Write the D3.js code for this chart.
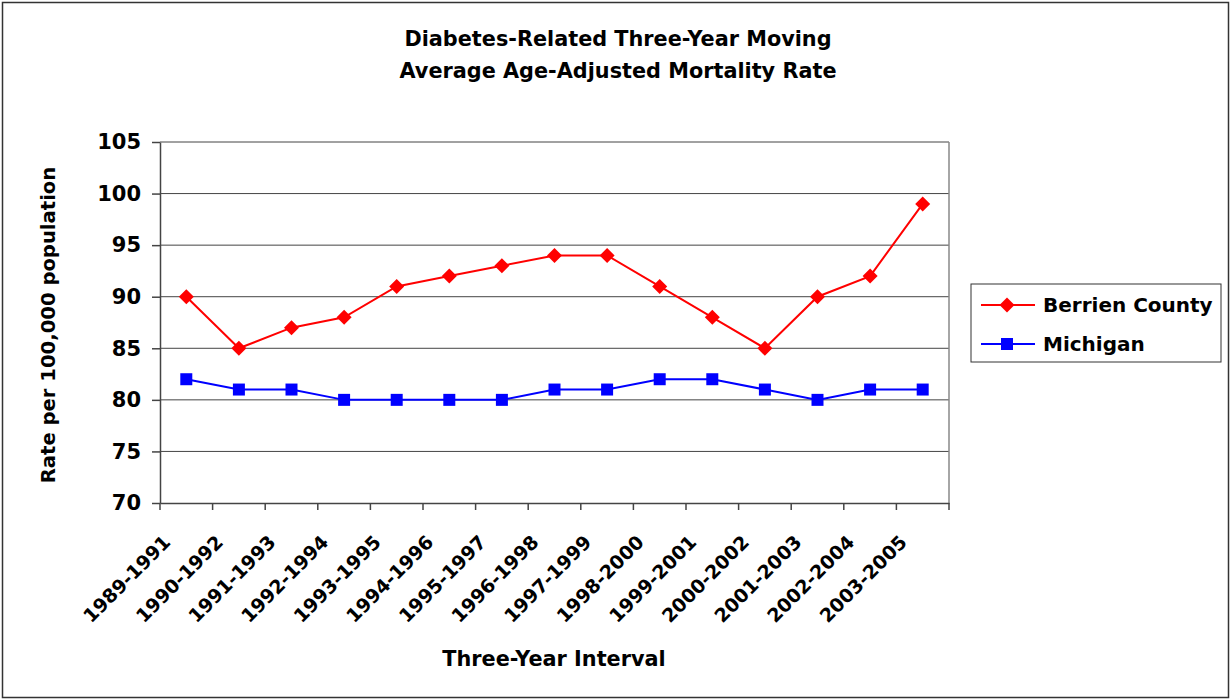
<!DOCTYPE html>
<html><head><meta charset="utf-8">
<script src="https://cdn.jsdelivr.net/npm/d3@7"></script>
<style>body{margin:0;background:#fff}svg{display:block}text{font-family:"DejaVu Sans",sans-serif;font-weight:bold}</style>
</head><body>
<svg id="c" width="1231" height="700"></svg>
<script>
const categories = ["1989-1991","1990-1992","1991-1993","1992-1994","1993-1995","1994-1996","1995-1997","1996-1998","1997-1999","1998-2000","1999-2001","2000-2002","2001-2003","2002-2004","2003-2005"];
const berrien = [90,85,87,88,91,92,93,94,94,91,88,85,90,92,99];
const michigan = [82,81,81,80,80,80,80,81,81,82,82,81,80,81,81];
const yTicks = [70,75,80,85,90,95,100,105];
const seriesNames = ["Berrien County","Michigan"];
const seriesColors = ["#ff0000","#0000ff"];
const FF = "DejaVu Sans, sans-serif";

const svg = d3.select("#c");
svg.append("rect").attr("x",2.5).attr("y",2.5).attr("width",1226).attr("height",695).attr("fill","#fff").attr("stroke","#333").attr("stroke-width",1.5);

const L=160,R=949,T=142,B=503;
const x = d3.scaleBand().domain(categories).range([L,R]);
const y = d3.scaleLinear().domain([70,105]).range([B,T]);

// gridlines
svg.append("g").selectAll("line").data(yTicks.filter(d=>d>70)).join("line")
  .attr("x1",L).attr("x2",R).attr("y1",d=>y(d)).attr("y2",d=>y(d))
  .attr("stroke","#444").attr("stroke-width",1);
svg.append("line").attr("x1",R).attr("x2",R).attr("y1",T).attr("y2",B).attr("stroke","#888").attr("stroke-width",1.5);

// y axis
const ya = svg.append("g").attr("transform",`translate(${L},0)`)
  .call(d3.axisLeft(y).tickValues(yTicks).tickSize(8).tickSizeOuter(0).tickPadding(11));
ya.select(".domain").attr("stroke","#444").attr("stroke-width",1.5);
ya.selectAll(".tick line").attr("stroke","#444").attr("stroke-width",1.5);
ya.selectAll("text").attr("font-size","21px").attr("fill","#000").attr("font-weight","bold").attr("font-family",FF);

// x axis
const xa = svg.append("g").attr("transform",`translate(0,${B})`)
  .call(d3.axisBottom(x).tickSize(0).tickFormat(""));
xa.select(".domain").attr("stroke","#444").attr("stroke-width",1.5);
svg.append("g").selectAll("line").data(d3.range(categories.length+1)).join("line")
  .attr("x1",i=>L+i*x.step()).attr("x2",i=>L+i*x.step())
  .attr("y1",B).attr("y2",B+7).attr("stroke","#444").attr("stroke-width",1.5);
svg.append("g").selectAll("text").data(categories).join("text")
  .attr("transform",d=>`translate(${x(d)+x.bandwidth()/2-24},${B+31}) rotate(-45)`)
  .attr("text-anchor","end").attr("dy","0.7em").attr("font-size","19px").text(d=>d);

// lines
const cx = (i)=>x(categories[i])+x.bandwidth()/2;
const line = d3.line().x((d,i)=>cx(i)).y(d=>y(d));
[berrien,michigan].forEach((s,k)=>{
  svg.append("path").datum(s).attr("d",line).attr("fill","none").attr("stroke",seriesColors[k]).attr("stroke-width",2);
});
const diamond = "M0,-7.5L7.5,0L0,7.5L-7.5,0Z";
const square = "M-6,-6H6V6H-6Z";
const shapes = [diamond, square];
[berrien,michigan].forEach((s,k)=>{
  svg.append("g").selectAll("path").data(s).join("path")
    .attr("transform",(d,i)=>`translate(${cx(i)},${y(d)})`)
    .attr("d",shapes[k]).attr("fill",seriesColors[k]);
});

// titles
svg.append("text").attr("x",618).attr("y",46).attr("text-anchor","middle").attr("font-size","20.8px").text("Diabetes-Related Three-Year Moving");
svg.append("text").attr("x",618).attr("y",78).attr("text-anchor","middle").attr("font-size","20.8px").text("Average Age-Adjusted Mortality Rate");
svg.append("text").attr("x",554).attr("y",666).attr("text-anchor","middle").attr("font-size","20.8px").text("Three-Year Interval");
svg.append("text").attr("transform","translate(55,325) rotate(-90)").attr("text-anchor","middle").attr("font-size","19.6px").text("Rate per 100,000 population");

// legend
const lg = svg.append("g");
lg.append("rect").attr("x",971).attr("y",284).attr("width",250).attr("height",78).attr("fill","#fff").attr("stroke","#333").attr("stroke-width",1);
seriesNames.forEach((n,k)=>{
  const yy = 305+k*39;
  lg.append("line").attr("x1",981).attr("x2",1035).attr("y1",yy).attr("y2",yy).attr("stroke",seriesColors[k]).attr("stroke-width",2);
  lg.append("path").attr("transform",`translate(1007,${yy})`).attr("d",shapes[k]).attr("fill",seriesColors[k]);
  lg.append("text").attr("x",1043).attr("y",yy+7).attr("font-size","20px").text(n);
});
</script>
</body></html>
